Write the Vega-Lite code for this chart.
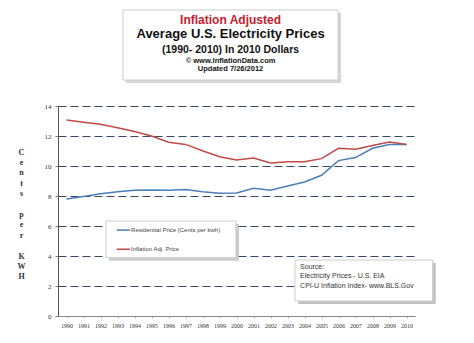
{
  "$schema": "https://vega.github.io/schema/vega-lite/v6.json",
  "width": 357,
  "height": 210,
  "autosize": {"type": "none"},
  "padding": {"left": 58, "top": 106, "right": 59, "bottom": 27},
  "background": "white",
  "config": {"view": {"stroke": null}},
  "resolve": {"axis": {"x": "independent", "y": "independent"}},
  "data": {
    "values": [
      {"year": 1990, "series": "Residential", "value": 7.8},
      {"year": 1991, "series": "Residential", "value": 7.97},
      {"year": 1992, "series": "Residential", "value": 8.15},
      {"year": 1993, "series": "Residential", "value": 8.29},
      {"year": 1994, "series": "Residential", "value": 8.38},
      {"year": 1995, "series": "Residential", "value": 8.4},
      {"year": 1996, "series": "Residential", "value": 8.38},
      {"year": 1997, "series": "Residential", "value": 8.44},
      {"year": 1998, "series": "Residential", "value": 8.29},
      {"year": 1999, "series": "Residential", "value": 8.18},
      {"year": 2000, "series": "Residential", "value": 8.2},
      {"year": 2001, "series": "Residential", "value": 8.51},
      {"year": 2002, "series": "Residential", "value": 8.38},
      {"year": 2003, "series": "Residential", "value": 8.67},
      {"year": 2004, "series": "Residential", "value": 8.93},
      {"year": 2005, "series": "Residential", "value": 9.38},
      {"year": 2006, "series": "Residential", "value": 10.36},
      {"year": 2007, "series": "Residential", "value": 10.56},
      {"year": 2008, "series": "Residential", "value": 11.18},
      {"year": 2009, "series": "Residential", "value": 11.44},
      {"year": 2010, "series": "Residential", "value": 11.44},
      {"year": 1990, "series": "Inflation", "value": 13.07},
      {"year": 1991, "series": "Inflation", "value": 12.92},
      {"year": 1992, "series": "Inflation", "value": 12.78},
      {"year": 1993, "series": "Inflation", "value": 12.55},
      {"year": 1994, "series": "Inflation", "value": 12.3},
      {"year": 1995, "series": "Inflation", "value": 12.0},
      {"year": 1996, "series": "Inflation", "value": 11.58},
      {"year": 1997, "series": "Inflation", "value": 11.44},
      {"year": 1998, "series": "Inflation", "value": 11.02},
      {"year": 1999, "series": "Inflation", "value": 10.62},
      {"year": 2000, "series": "Inflation", "value": 10.4},
      {"year": 2001, "series": "Inflation", "value": 10.53},
      {"year": 2002, "series": "Inflation", "value": 10.2},
      {"year": 2003, "series": "Inflation", "value": 10.29},
      {"year": 2004, "series": "Inflation", "value": 10.29},
      {"year": 2005, "series": "Inflation", "value": 10.49},
      {"year": 2006, "series": "Inflation", "value": 11.18},
      {"year": 2007, "series": "Inflation", "value": 11.11},
      {"year": 2008, "series": "Inflation", "value": 11.36},
      {"year": 2009, "series": "Inflation", "value": 11.6},
      {"year": 2010, "series": "Inflation", "value": 11.44}
    ]
  },
  "layer": [
    {
      "mark": {"type": "line", "strokeWidth": 1.5},
      "encoding": {
        "x": {
          "field": "year", "type": "quantitative",
          "scale": {"domain": [1989.5, 2010.5], "nice": false, "zero": false},
          "axis": {
            "title": null, "values": [1990,1991,1992,1993,1994,1995,1996,1997,1998,1999,2000,2001,2002,2003,2004,2005,2006,2007,2008,2009,2010],
            "format": "d", "labelAngle": 0, "grid": false, "labelFont": "Liberation Serif", "labelFontSize": 6,
            "labelColor": "#333333", "domainColor": "#888888", "tickColor": "#bbbbbb", "tickSize": 2,
            "labelPadding": 4, "labelFlush": false, "labelOverlap": false
          }
        },
        "y": {
          "field": "value", "type": "quantitative",
          "scale": {"domain": [0, 14], "nice": false},
          "axis": {
            "title": ["C","e","n","t","s","\u200b","p","e","r","\u200b","K","W","H"],
            "titleAngle": 0, "titleAlign": "center", "titleBaseline": "top",
            "titleX": -37, "titleY": 42, "titleFont": "Liberation Serif", "titleFontSize": 8,
            "titleFontWeight": "bold", "titleLineHeight": 10.4, "titleColor": "#333333",
            "values": [0,2,4,6,8,10,12,14], "labelFont": "Liberation Serif", "labelFontSize": 7,
            "labelColor": "#333333", "domainColor": "#555555", "tickColor": "#777777", "tickSize": 3, "labelPadding": 4,
            "gridDash": [8, 4], "gridWidth": 1.2,
            "gridColor": {"condition": {"test": "datum.value === 0", "value": "transparent"}, "value": "#354766"}
          }
        },
        "color": {
          "field": "series", "type": "nominal",
          "scale": {"domain": ["Residential", "Inflation"], "range": ["#4a7ebb", "#be4b48"]},
          "legend": null
        }
      }
    },
    {
      "data": {"values": [{}]},
      "mark": {"type": "rect", "fill": "#bbbbbb", "opacity": 0.6},
      "encoding": {
        "x": {"datum": 1993.5, "axis": null}, "x2": {"datum": 2006.15},
        "y": {"datum": 20.2, "axis": null}, "y2": {"datum": 15.53}
      }
    },
    {
      "data": {"values": [{}]},
      "mark": {"type": "rect", "fill": "white", "stroke": "#cccccc", "strokeWidth": 1},
      "encoding": {
        "x": {"datum": 1993.32, "axis": null}, "x2": {"datum": 2005.97},
        "y": {"datum": 20.4, "axis": null}, "y2": {"datum": 15.73}
      }
    },
    {
      "data": {"values": [{}]},
      "mark": {"type": "text", "font": "Liberation Sans", "fontWeight": "bold", "fontSize": 12, "color": "#c8202e", "align": "center", "baseline": "middle"},
      "encoding": {"x": {"datum": 1999.65, "axis": null}, "y": {"datum": 19.73, "axis": null}, "text": {"value": "Inflation Adjusted"}}
    },
    {
      "data": {"values": [{}]},
      "mark": {"type": "text", "font": "Liberation Sans", "fontWeight": "bold", "fontSize": 13, "color": "#111111", "align": "center", "baseline": "middle"},
      "encoding": {"x": {"datum": 1999.65, "axis": null}, "y": {"datum": 18.78, "axis": null}, "text": {"value": "Average U.S. Electricity Prices"}}
    },
    {
      "data": {"values": [{}]},
      "mark": {"type": "text", "font": "Liberation Sans", "fontWeight": "bold", "fontSize": 10.5, "color": "#111111", "align": "center", "baseline": "middle"},
      "encoding": {"x": {"datum": 1999.65, "axis": null}, "y": {"datum": 17.73, "axis": null}, "text": {"value": "(1990- 2010) In 2010 Dollars"}}
    },
    {
      "data": {"values": [{}]},
      "mark": {"type": "text", "font": "Liberation Sans", "fontWeight": "bold", "fontSize": 7.5, "color": "#111111", "align": "center", "baseline": "middle"},
      "encoding": {"x": {"datum": 1999.65, "axis": null}, "y": {"datum": 16.99, "axis": null}, "text": {"value": "© www.InflationData.com"}}
    },
    {
      "data": {"values": [{}]},
      "mark": {"type": "text", "font": "Liberation Sans", "fontWeight": "bold", "fontSize": 7.5, "color": "#111111", "align": "center", "baseline": "middle"},
      "encoding": {"x": {"datum": 1999.65, "axis": null}, "y": {"datum": 16.45, "axis": null}, "text": {"value": "Updated 7/26/2012"}}
    },
    {
      "data": {"values": [{}]},
      "mark": {"type": "rect", "fill": "#aaaaaa", "opacity": 0.6},
      "encoding": {
        "x": {"datum": 1992.5, "axis": null}, "x2": {"datum": 2000.15},
        "y": {"datum": 6.13, "axis": null}, "y2": {"datum": 3.69}
      }
    },
    {
      "data": {"values": [{}]},
      "mark": {"type": "rect", "fill": "white", "stroke": "#cccccc", "strokeWidth": 1},
      "encoding": {
        "x": {"datum": 1992.32, "axis": null}, "x2": {"datum": 1999.97},
        "y": {"datum": 6.33, "axis": null}, "y2": {"datum": 3.89}
      }
    },
    {
      "data": {"values": [{}]},
      "mark": {"type": "rule", "stroke": "#4a7ebb", "strokeWidth": 1.5},
      "encoding": {"x": {"datum": 1992.95, "axis": null}, "x2": {"datum": 1993.74}, "y": {"datum": 5.73, "axis": null}}
    },
    {
      "data": {"values": [{}]},
      "mark": {"type": "rule", "stroke": "#be4b48", "strokeWidth": 1.5},
      "encoding": {"x": {"datum": 1992.95, "axis": null}, "x2": {"datum": 1993.74}, "y": {"datum": 4.45, "axis": null}}
    },
    {
      "data": {"values": [{}]},
      "mark": {"type": "text", "font": "Liberation Sans", "fontSize": 6, "color": "#444444", "align": "left", "baseline": "middle"},
      "encoding": {"x": {"datum": 1993.8, "axis": null}, "y": {"datum": 5.73, "axis": null}, "text": {"value": "Residential Price  (Cents per kwh)"}}
    },
    {
      "data": {"values": [{}]},
      "mark": {"type": "text", "font": "Liberation Sans", "fontSize": 6, "color": "#444444", "align": "left", "baseline": "middle"},
      "encoding": {"x": {"datum": 1993.8, "axis": null}, "y": {"datum": 4.45, "axis": null}, "text": {"value": "Inflation Adj.  Price"}}
    },
    {
      "data": {"values": [{}]},
      "mark": {"type": "rect", "fill": "#999999", "opacity": 0.6},
      "encoding": {
        "x": {"datum": 2003.62, "axis": null}, "x2": {"datum": 2011.72},
        "y": {"datum": 3.53, "axis": null}, "y2": {"datum": 0.8}
      }
    },
    {
      "data": {"values": [{}]},
      "mark": {"type": "rect", "fill": "white", "stroke": "#cccccc", "strokeWidth": 1},
      "encoding": {
        "x": {"datum": 2003.44, "axis": null}, "x2": {"datum": 2011.54},
        "y": {"datum": 3.73, "axis": null}, "y2": {"datum": 1.0}
      }
    },
    {
      "data": {"values": [{}]},
      "mark": {"type": "text", "font": "Liberation Sans", "fontSize": 7, "color": "#333333", "align": "left", "baseline": "middle"},
      "encoding": {"x": {"datum": 2003.74, "axis": null}, "y": {"datum": 3.29, "axis": null}, "text": {"value": "Source:"}}
    },
    {
      "data": {"values": [{}]},
      "mark": {"type": "text", "font": "Liberation Sans", "fontSize": 7, "color": "#333333", "align": "left", "baseline": "middle"},
      "encoding": {"x": {"datum": 2003.74, "axis": null}, "y": {"datum": 2.65, "axis": null}, "text": {"value": "Electricity Prices - U.S. EIA"}}
    },
    {
      "data": {"values": [{}]},
      "mark": {"type": "text", "font": "Liberation Sans", "fontSize": 7, "color": "#333333", "align": "left", "baseline": "middle"},
      "encoding": {"x": {"datum": 2003.74, "axis": null}, "y": {"datum": 2.02, "axis": null}, "text": {"value": "CPI-U Inflation Index- www.BLS.Gov"}}
    }
  ]
}
